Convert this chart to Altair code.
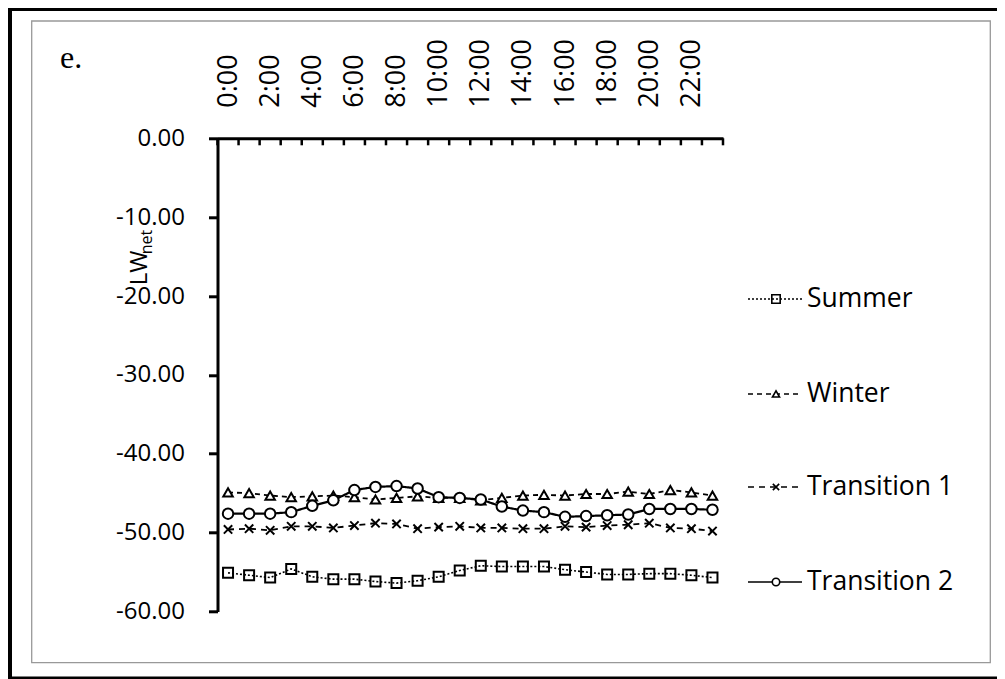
import altair as alt
import pandas as pd

# ---- data ----
hours = list(range(24))
series_names = ["Summer", "Winter", "Transition 1", "Transition 2"]
summer = [-55.1, -55.4, -55.7, -54.6, -55.6, -55.9, -55.9, -56.2, -56.4, -56.1, -55.6, -54.8,
          -54.2, -54.3, -54.3, -54.3, -54.7, -55.0, -55.3, -55.3, -55.2, -55.2, -55.4, -55.7]
winter = [-44.9, -45.0, -45.3, -45.5, -45.4, -45.3, -45.5, -45.8, -45.6, -45.4, -45.6, -45.6,
          -45.9, -45.6, -45.3, -45.2, -45.3, -45.1, -45.1, -44.8, -45.1, -44.6, -44.9, -45.3]
transition1 = [-49.6, -49.5, -49.7, -49.2, -49.2, -49.4, -49.1, -48.8, -48.9, -49.5, -49.3, -49.2,
               -49.4, -49.4, -49.5, -49.5, -49.2, -49.3, -49.1, -49.0, -48.8, -49.4, -49.5, -49.8]
transition2 = [-47.6, -47.6, -47.6, -47.4, -46.6, -45.9, -44.6, -44.2, -44.1, -44.4, -45.5, -45.6,
               -45.8, -46.7, -47.2, -47.4, -48.0, -47.9, -47.8, -47.7, -47.0, -47.0, -47.0, -47.1]
y_ticks = [-60, -50, -40, -30, -20, -10, 0]
x_label_hours = list(range(0, 24, 2))
panel_label = "e."

all_values = [summer, winter, transition1, transition2]

rows = []
for name, vals in zip(series_names, all_values):
    for h, v in zip(hours, vals):
        rows.append({"series": name, "hour": h, "value": v})
df = pd.DataFrame(rows)
tick_df = pd.DataFrame({"edge": [h - 0.5 for h in hours] + [hours[-1] + 0.5]})

# ---- layout ----
FONT = "Open Sans"
W, H = 505.5, 473.2
PAD_L, PAD_T = 209.5, 130.3
TOTAL_W, TOTAL_H = 989, 671
ORIGIN_X, ORIGIN_Y = 8 + PAD_L, 8 + PAD_T   # page position of plot origin


def px(page_x):
    return page_x - ORIGIN_X


def py(page_y):
    return page_y - ORIGIN_Y


x_scale = alt.Scale(domain=[-0.5, 23.5], nice=False, zero=False)
y_scale = alt.Scale(domain=[-60, 0], nice=False, zero=False)

x_enc = alt.X(
    "hour:Q", scale=x_scale,
    axis=alt.Axis(orient="top", values=x_label_hours, labelExpr="datum.value + ':00'",
                  labelAngle=270, labelAlign="left", labelBaseline="middle",
                  ticks=False, tickSize=0, labelPadding=31, labelFont=FONT,
                  labelFontSize=27, labelColor="black", domainColor="black",
                  domainWidth=3, grid=False, title="", labelOverlap=False,
                  labelFlush=False),
)
y_enc = alt.Y(
    "value:Q", scale=y_scale,
    axis=alt.Axis(values=y_ticks,
                  labelExpr="(datum.value < 0 ? '-' : '') + format(abs(datum.value), '.2f')",
                  tickSize=9, tickWidth=3, tickColor="black", domainColor="black",
                  domainWidth=3, labelPadding=24, labelFont=FONT, labelFontSize=24,
                  labelColor="black", grid=False, title="", labelOverlap=False,
                  labelFlush=False),
)

XPATH = "M-1,-1L1,1M-1,1L1,-1"
styles = {
    "Summer": dict(dash=[2, 2], lw=1.6, shape="square", fill="transparent", size=100, lsize=70),
    "Winter": dict(dash=[5, 4], lw=1.8, shape="triangle-up", fill="white", size=90, lsize=50),
    "Transition 1": dict(dash=[6, 5], lw=1.8, shape=XPATH, fill="transparent", size=70, lsize=40),
    "Transition 2": dict(dash=[1, 0], lw=2.2, shape="circle", fill="white", size=110, lsize=55),
}

layers = []
for name in series_names:
    st = styles[name]
    sub = df[df.series == name]
    layers.append(
        alt.Chart(sub).mark_line(color="black", strokeWidth=st["lw"], strokeDash=st["dash"])
        .encode(x=x_enc, y=y_enc)
    )
for name in series_names:
    st = styles[name]
    sub = df[df.series == name]
    layers.append(
        alt.Chart(sub).mark_point(shape=st["shape"], size=st["size"], strokeWidth=2,
                                  opacity=1)
        .encode(x=x_enc, y=y_enc, fill=alt.value(st["fill"]), stroke=alt.value("black"))
    )

# tick marks between categories, pointing inward from the top axis
layers.append(
    alt.Chart(tick_df).mark_rule(color="black", strokeWidth=2.5)
    .encode(x=alt.X("edge:Q", scale=x_scale), y=alt.value(0), y2=alt.value(7))
)

# legend (drawn manually: line + marker + label)
legend_page_y = [299, 394, 487, 582]
for name, ly in zip(series_names, legend_page_y):
    st = styles[name]
    layers.append(
        alt.Chart().mark_rule(color="black", strokeWidth=1.6, strokeDash=st["dash"])
        .encode(x=alt.value(px(748)), x2=alt.value(px(802)), y=alt.value(py(ly)))
    )
    layers.append(
        alt.Chart().mark_point(shape=st["shape"], size=st["lsize"], strokeWidth=1.6, opacity=1)
        .encode(x=alt.value(px(776)), y=alt.value(py(ly)), fill=alt.value(st["fill"]),
                stroke=alt.value("black"))
    )
    layers.append(
        alt.Chart().mark_text(align="left", baseline="middle", font=FONT, fontSize=26.5,
                              color="black")
        .encode(x=alt.value(px(807)), y=alt.value(py(ly)), text=alt.value(name))
    )

# y-axis title LW_net
layers.append(
    alt.Chart().mark_text(align="center", baseline="middle", font=FONT, fontSize=24,
                          angle=270, color="black")
    .encode(x=alt.value(px(140)), y=alt.value(py(268)), text=alt.value("LW"))
)
layers.append(
    alt.Chart().mark_text(align="center", baseline="middle", font=FONT, fontSize=16,
                          angle=270, color="black")
    .encode(x=alt.value(px(147)), y=alt.value(py(242)), text=alt.value("net"))
)

# panel label
layers.append(
    alt.Chart().mark_text(align="left", baseline="alphabetic", font="Liberation Serif",
                          fontSize=32, color="black")
    .encode(x=alt.value(px(60)), y=alt.value(py(68)), text=alt.value(panel_label))
)

# frames
layers.append(
    alt.Chart().mark_rect(filled=False, stroke="#999999", strokeWidth=1.3)
    .encode(x=alt.value(px(31.7)), x2=alt.value(px(990.3)),
            y=alt.value(py(21)), y2=alt.value(py(662.7)))
)
layers.append(
    alt.Chart().mark_rect(filled=False, stroke="black", strokeWidth=5)
    .encode(x=alt.value(px(9.5)), x2=alt.value(px(1020)),
            y=alt.value(py(8.5)), y2=alt.value(py(679)))
)

chart = alt.layer(*layers).properties(
    width=W, height=H,
    autosize=alt.AutoSizeParams(type="none"),
    padding={"left": PAD_L, "top": PAD_T, "right": TOTAL_W - PAD_L - W,
             "bottom": TOTAL_H - PAD_T - H},
    background="white",
).configure_view(stroke="transparent")

chart.save("out.html", embed_options={"renderer": "svg", "actions": False})
